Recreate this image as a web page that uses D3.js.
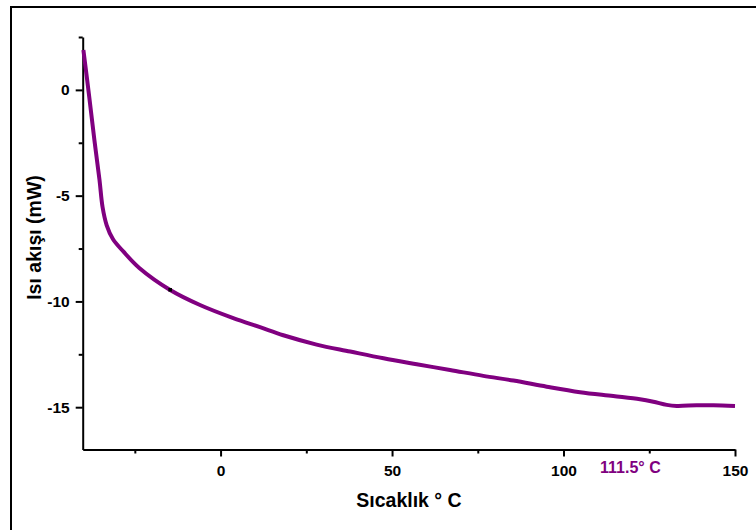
<!DOCTYPE html>
<html>
<head>
<meta charset="utf-8">
<script src="https://cdn.jsdelivr.net/npm/d3@7"></script>
<style>
    body { margin: 0; background: #fff; }
    svg { display: block; font-family: Arial, 'Liberation Sans', sans-serif; }
</style>
</head>
<body>
<div id="chart"></div>
<script>
// DSC curve
var tempC = [-40.0, -38.3, -36.8, -35.3, -34.4, -33.2, -31.4, -28.3, -23.7, -14.7, -6.0, 3.7, 11.5, 18.3, 28.0, 37.8, 47.5, 57.2, 66.9, 76.6, 85.4, 95.1, 104.8, 114.5, 122.3, 126.2, 130.1, 133.0, 138.8, 143.7, 150.0];
var heatFlow = [1.89, -0.32, -2.36, -4.26, -5.55, -6.40, -7.05, -7.65, -8.42, -9.46, -10.17, -10.79, -11.22, -11.60, -12.04, -12.37, -12.69, -12.97, -13.24, -13.52, -13.74, -14.03, -14.29, -14.47, -14.62, -14.74, -14.89, -14.94, -14.91, -14.91, -14.94];

var xMajorTicks = [0, 50, 100, 150];
var xMinorTicks = [-25, 25, 75, 125];
var yMajorTicks = [0, -5, -10, -15];
var yMinorTicks = [2.5, -2.5, -7.5, -12.5];

var markerPoint = [-14.7, -9.45];
var transitionLabel = "111.5° C";
var transitionLabelX = 119.5;

var xTitle = "Sıcaklık ° C";
var yTitle = "Isı akışı (mW)";

var totalWidth = 756;
var totalHeight = 530;
var purple = '#800080';

var svg = d3.select('#chart').append('svg')
    .attr('width', totalWidth)
    .attr('height', totalHeight);

// outer frame (runs off the right and bottom edges)
svg.append('rect')
    .attr('x', 11).attr('y', 7)
    .attr('width', totalWidth + 20).attr('height', totalHeight + 20)
    .attr('fill', 'none').attr('stroke', '#000').attr('stroke-width', 2);

var xScale = d3.scaleLinear().domain([-40.2, 150]).range([82.7, 735]);
var yScale = d3.scaleLinear().domain([-17, 2.5]).range([449.5, 37]);

function styleAxis(g) {
    g.selectAll('path').attr('stroke', '#000').attr('stroke-width', 2);
    g.selectAll('line').attr('stroke', '#000').attr('stroke-width', 2);
    g.selectAll('text').attr('fill', '#000').attr('font-size', 15.5).attr('font-weight', 'bold')
        .attr('font-family', "Arial, 'Liberation Sans', sans-serif");
}

// minor ticks first, then major axes with the domain line
var xMinor = svg.append('g').attr('transform', 'translate(0,' + yScale.range()[0] + ')')
    .call(d3.axisBottom(xScale).tickValues(xMinorTicks).tickSize(4).tickFormat(''));
xMinor.select('.domain').remove();
styleAxis(xMinor);

var xAxisGroup = svg.append('g').attr('transform', 'translate(0,' + yScale.range()[0] + ')')
    .call(d3.axisBottom(xScale).tickValues(xMajorTicks).tickSizeInner(7).tickSizeOuter(0).tickPadding(8)
        .tickFormat(function(d) { return String(d); }));
styleAxis(xAxisGroup);

var yMinor = svg.append('g').attr('transform', 'translate(' + xScale.range()[0] + ',0)')
    .call(d3.axisLeft(yScale).tickValues(yMinorTicks).tickSize(4).tickFormat(''));
yMinor.select('.domain').remove();
styleAxis(yMinor);

var yAxisGroup = svg.append('g').attr('transform', 'translate(' + xScale.range()[0] + ',0)')
    .call(d3.axisLeft(yScale).tickValues(yMajorTicks).tickSizeInner(7).tickSizeOuter(0).tickPadding(6)
        .tickFormat(function(d) { return String(d); }));
styleAxis(yAxisGroup);

// curve
var points = tempC.map(function(t, i) { return { t: t, q: heatFlow[i] }; });
var line = d3.line()
    .x(function(d) { return xScale(d.t); })
    .y(function(d) { return yScale(d.q); })
    .curve(d3.curveCatmullRom.alpha(0.5));

svg.append('path')
    .datum(points)
    .attr('d', line)
    .attr('fill', 'none')
    .attr('stroke', purple)
    .attr('stroke-width', 4)
    .attr('stroke-linejoin', 'round');

// small black marker on the curve
svg.append('rect')
    .attr('x', xScale(markerPoint[0]) - 1.8)
    .attr('y', yScale(markerPoint[1]) - 1.8)
    .attr('width', 3.6).attr('height', 3.6)
    .attr('fill', '#000');

// transition annotation
svg.append('text')
    .attr('x', xScale(transitionLabelX))
    .attr('y', 473)
    .attr('text-anchor', 'middle')
    .attr('font-size', 16).attr('font-weight', 'bold')
    .attr('fill', purple)
    .text(transitionLabel);

// axis titles
svg.append('text')
    .attr('x', 409).attr('y', 507)
    .attr('text-anchor', 'middle')
    .attr('font-size', 19.5).attr('font-weight', 'bold')
    .text(xTitle);

svg.append('text')
    .attr('transform', 'translate(41,237.5) rotate(-90)')
    .attr('text-anchor', 'middle')
    .attr('font-size', 19.5).attr('font-weight', 'bold')
    .text(yTitle);
</script>
</body>
</html>
